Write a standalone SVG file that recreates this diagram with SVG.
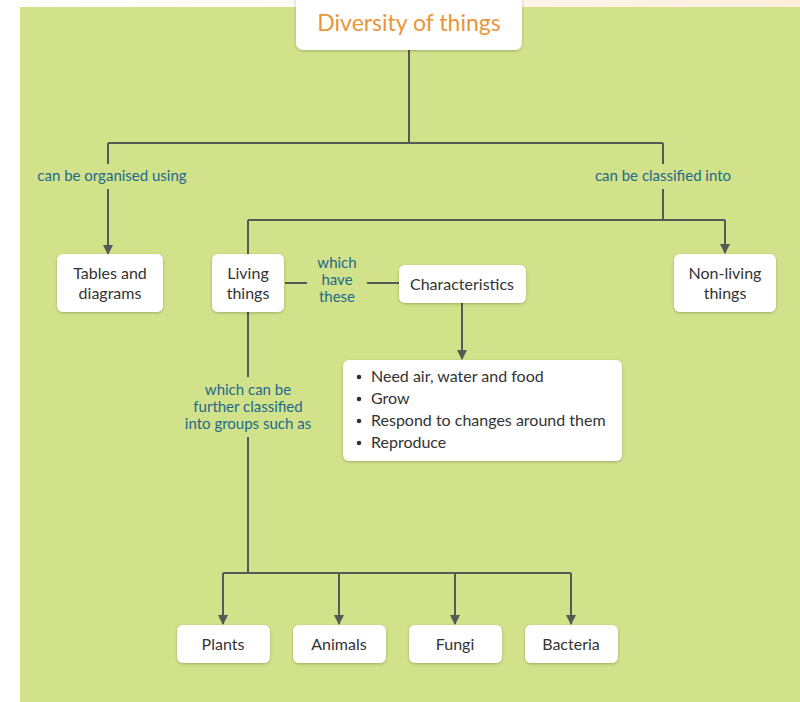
<svg xmlns="http://www.w3.org/2000/svg" width="800" height="702" viewBox="0 0 800 702">
<defs>
<marker id="arr" viewBox="0 0 10 10" refX="9" refY="5" markerWidth="10" markerHeight="10" markerUnits="userSpaceOnUse" orient="auto">
<path d="M0,0 L10,5 L0,10 z" fill="#555a55"/>
</marker>
<filter id="sh" x="-10%" y="-10%" width="120%" height="130%">
<feGaussianBlur in="SourceAlpha" stdDeviation="1.5"/>
<feOffset dy="1"/>
<feComponentTransfer><feFuncA type="linear" slope="0.25"/></feComponentTransfer>
<feMerge><feMergeNode/><feMergeNode in="SourceGraphic"/></feMerge>
</filter>
<linearGradient id="topbar" x1="0" x2="1" y1="0" y2="0">
<stop offset="0" stop-color="#ffffff"/>
<stop offset="1" stop-color="#fdeedd"/>
</linearGradient>
</defs>
<style>
.box{fill:#ffffff;filter:url(#sh)}
.t{font-family:Lato,"Liberation Sans",sans-serif;font-size:16px;fill:#333333;text-anchor:middle}
.bl{font-family:Lato,"Liberation Sans",sans-serif;font-size:16px;fill:#333333}
.lab{font-family:Lato,"Liberation Sans",sans-serif;font-size:15px;fill:#22698a;text-anchor:middle}
.ln{stroke:#555a55;stroke-width:2;fill:none}
.ar{stroke:#555a55;stroke-width:2;fill:none;marker-end:url(#arr)}
</style>
<rect x="0" y="0" width="800" height="702" fill="#ffffff"/>
<rect x="20" y="0" width="780" height="7" fill="url(#topbar)"/>
<rect x="20" y="7" width="780" height="695" fill="#d2e28a"/>

<g id="connectors">
<path class="ln" d="M409,50 V143 M108,143 H663"/>
<path class="ln" d="M108,143 V164"/>
<path class="ar" d="M108,189 V254"/>
<path class="ln" d="M663,143 V164"/>
<path class="ln" d="M663,189 V220 M248,220 H725"/>
<path class="ar" d="M725,220 V253"/>
<path class="ln" d="M248,220 V255"/>
<path class="ln" d="M285,283 H307 M367,283 H399"/>
<path class="ar" d="M462,303 V359"/>
<path class="ln" d="M248,312 V377 M248,437 V573 M223,573 H571"/>
<path class="ar" d="M223,573 V624"/>
<path class="ar" d="M339,573 V624"/>
<path class="ar" d="M455,573 V624"/>
<path class="ar" d="M571,573 V624"/>
<g id="labels">
<text class="lab" x="112" y="181">can be organised using</text>
<text class="lab" x="663" y="181">can be classified into</text>
<text class="lab" x="337" y="268">which</text>
<text class="lab" x="337" y="285">have</text>
<text class="lab" x="337" y="302">these</text>
<text class="lab" x="248" y="395">which can be</text>
<text class="lab" x="248" y="412">further classified</text>
<text class="lab" x="248" y="429">into groups such as</text>
</g>
</g>

<g id="title">
<rect class="box" x="296" y="-8" width="226" height="58" rx="7"/>
<text x="409" y="31" font-family="Lato,'Liberation Sans',sans-serif" font-size="23" fill="#e8963a" text-anchor="middle">Diversity of things</text>
</g>
<g id="tables">
<rect class="box" x="57" y="254" width="106" height="58" rx="6"/>
<text class="t" x="110" y="279">Tables and</text>
<text class="t" x="110" y="299">diagrams</text>
</g>
<g id="living">
<rect class="box" x="212" y="254" width="72" height="58" rx="6"/>
<text class="t" x="248" y="279">Living</text>
<text class="t" x="248" y="299">things</text>
</g>
<g id="characteristics">
<rect class="box" x="399" y="265" width="127" height="38" rx="6"/>
<text class="t" x="462" y="290">Characteristics</text>
</g>
<g id="nonliving">
<rect class="box" x="674" y="254" width="102" height="58" rx="6"/>
<text class="t" x="725" y="279">Non-living</text>
<text class="t" x="725" y="299">things</text>
</g>
<g id="list">
<rect class="box" x="343" y="360" width="279" height="101" rx="6"/>
<circle cx="359" cy="377" r="2.3" fill="#333333"/>
<circle cx="359" cy="399" r="2.3" fill="#333333"/>
<circle cx="359" cy="421" r="2.3" fill="#333333"/>
<circle cx="359" cy="443" r="2.3" fill="#333333"/>
<text class="bl" x="371" y="382">Need air, water and food</text>
<text class="bl" x="371" y="404">Grow</text>
<text class="bl" x="371" y="426">Respond to changes around them</text>
<text class="bl" x="371" y="448">Reproduce</text>
</g>
<g id="plants">
<rect class="box" x="177" y="625" width="93" height="38" rx="6"/>
<text class="t" x="223" y="650">Plants</text>
</g>
<g id="animals">
<rect class="box" x="293" y="625" width="93" height="38" rx="6"/>
<text class="t" x="339" y="650">Animals</text>
</g>
<g id="fungi">
<rect class="box" x="409" y="625" width="93" height="38" rx="6"/>
<text class="t" x="455" y="650">Fungi</text>
</g>
<g id="bacteria">
<rect class="box" x="525" y="625" width="93" height="38" rx="6"/>
<text class="t" x="571" y="650">Bacteria</text>
</g>
</svg>
